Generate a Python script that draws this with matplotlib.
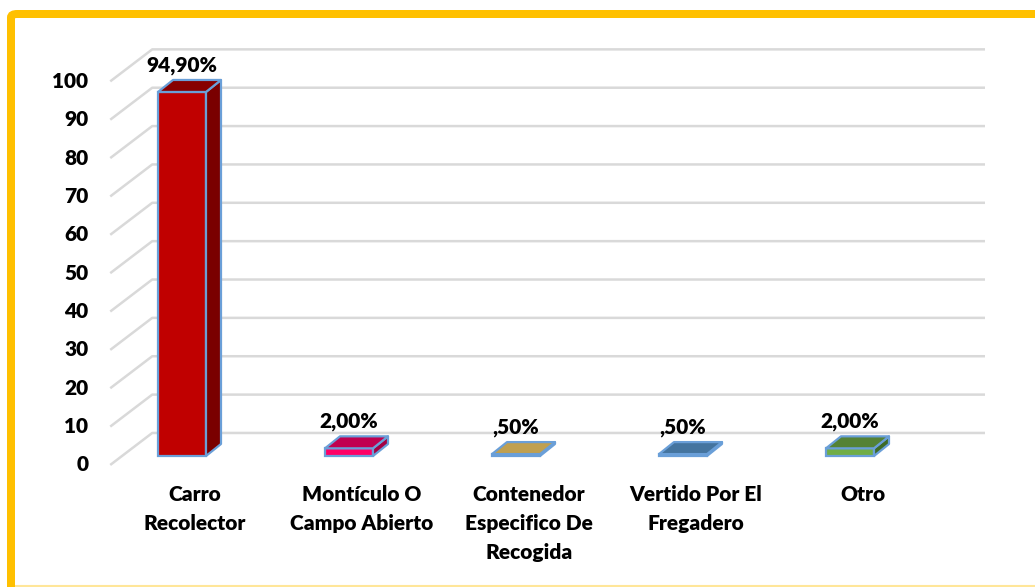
import matplotlib
matplotlib.use("Agg")
import matplotlib.pyplot as plt
from matplotlib.patches import Polygon, FancyBboxPatch
from matplotlib.lines import Line2D

# ---- data ----
categories = ["Carro\nRecolector", "Montículo O\nCampo Abierto", "Contenedor\nEspecifico De\nRecogida",
              "Vertido Por El\nFregadero", "Otro"]
values = [94.9, 2.0, 0.5, 0.5, 2.0]
value_labels = ["94,90%", "2,00%", ",50%", ",50%", "2,00%"]
yticks = [0, 10, 20, 30, 40, 50, 60, 70, 80, 90, 100]

# ---- style ----
front_colors = ["#C00000", "#FF0066", "#C9A855", "#4F81BD", "#70AD47"]
side_colors = ["#7A0000", "#A30042", "#9C8040", "#3A6590", "#3E6B27"]
top_colors = ["#870000", "#C0004F", "#C0A050", "#44749F", "#548235"]
edge_color = "#6A9FD8"
grid_color = "#D9D9D9"
FONT = ["Lato", "DejaVu Sans"]
WEIGHT = "heavy"

W_PX, H_PX, DPI = 1035, 587, 100
fig = plt.figure(figsize=(W_PX / DPI, H_PX / DPI), dpi=DPI)
fig.patch.set_facecolor("white")

# layout: pixel mapping of the bar front plane
X0_PX, XSTEP_PX = 182.0, 167.0        # centre of first bar, spacing
Y0_PX, YSCALE_PX = 456.0, 3.836       # baseline pixel (from top), px per unit
ax = fig.add_axes([0, 0, 1, 1])
ax.set_xlim(-X0_PX / XSTEP_PX, (W_PX - X0_PX) / XSTEP_PX)
ax.set_ylim((Y0_PX - H_PX) / YSCALE_PX, Y0_PX / YSCALE_PX)
ax.axis("off")

px_x = 1.0 / XSTEP_PX
px_y = 1.0 / YSCALE_PX

# depth geometry (in data units)
full_dx, full_dy = 42 * px_x, 32 * px_y
f0 = 0.28                               # bar front plane depth fraction
wall_x = (122 - X0_PX) * px_x           # side wall x at bar-front depth
right_x = (985 - X0_PX) * px_x - (1 - f0) * full_dx
bar_w = 48 * px_x
bdx, bdy = 15 * px_x, 12 * px_y

# gridlines (side wall diagonal + back wall)
for t in yticks:
    xf, yf = wall_x - f0 * full_dx, t - f0 * full_dy
    xb, yb = wall_x + (1 - f0) * full_dx, t + (1 - f0) * full_dy
    xr = right_x + (1 - f0) * full_dx
    ax.plot([xf, xb, xr], [yf, yb, yb], color=grid_color, lw=1.8, zorder=1,
            solid_capstyle="butt")
    ax.annotate(str(t), (xf, yf), xytext=(-22, 0), textcoords="offset pixels",
                ha="right", va="center", fontsize=15, fontweight=WEIGHT,
                family=FONT, color="black")

# bars
xs = list(range(len(values)))
bars = ax.bar(xs, values, width=bar_w, color=front_colors, edgecolor=edge_color,
              linewidth=1.6, zorder=3)
for i, v in enumerate(values):
    l, r = i - bar_w / 2, i + bar_w / 2
    side = Polygon([(r, 0), (r + bdx, bdy), (r + bdx, v + bdy), (r, v)],
                   closed=True, facecolor=side_colors[i], edgecolor=edge_color,
                   lw=1.6, zorder=3, joinstyle="round")
    top = Polygon([(l, v), (r, v), (r + bdx, v + bdy), (l + bdx, v + bdy)],
                  closed=True, facecolor=top_colors[i], edgecolor=edge_color,
                  lw=1.6, zorder=4, joinstyle="round")
    ax.add_patch(side)
    ax.add_patch(top)
    ax.annotate(value_labels[i], (i, v + bdy), xytext=(0, 5), textcoords="offset pixels",
                ha="center", va="bottom", fontsize=15, fontweight=WEIGHT,
                family=FONT, color="black", zorder=5)
    ax.annotate(categories[i], (i, 0), xytext=(13, -29), textcoords="offset pixels",
                ha="center", va="top", fontsize=15, fontweight=WEIGHT,
                family=FONT, color="black", linespacing=1.62, multialignment="center")

# gold border (chart area frame)
border = FancyBboxPatch((11 / W_PX, -20 / H_PX), (W_PX + 40) / W_PX, (H_PX - 14 + 20) / H_PX,
                        boxstyle="round,pad=0,rounding_size=0.006",
                        transform=fig.transFigure, facecolor="none",
                        edgecolor="#FFC000", lw=8 * 72 / DPI, zorder=10)
fig.patches.append(border)
fig.add_artist(Line2D([11 / W_PX, 1], [1.5 / H_PX, 1.5 / H_PX], transform=fig.transFigure,
                      color="#FFE699", lw=1.5))

fig.savefig("out.png", dpi=DPI, facecolor="white")
